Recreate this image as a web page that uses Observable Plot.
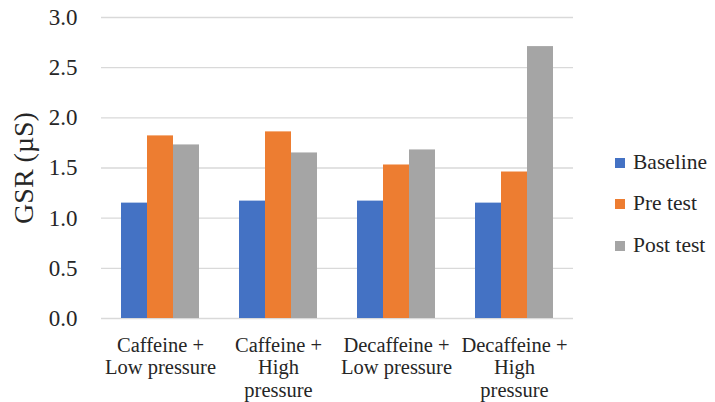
<!DOCTYPE html>
<html>
<head>
<meta charset="utf-8">
<script src="https://cdn.jsdelivr.net/npm/d3@7"></script>
<script src="https://cdn.jsdelivr.net/npm/@observablehq/plot@0.6"></script>
<style>
  html, body { margin: 0; padding: 0; background: #fff; }
  #wrap { position: relative; width: 715px; height: 402px; font-family: "Liberation Serif", serif; color: #262626; }
  #legend { position: absolute; left: 615px; top: 0; }
  .item { position: absolute; left: 0; white-space: nowrap; font-size: 21.5px; line-height: 1; display: flex; align-items: center; }
  .sw { width: 10px; height: 10px; margin-right: 8px; }
</style>
</head>
<body>
<div id="wrap"><div id="chart"></div><div id="legend"></div></div>
<script>
const categories = ["Caffeine + Low pressure", "Caffeine + High pressure", "Decaffeine + Low pressure", "Decaffeine + High pressure"];
const categoryLabels = ["Caffeine +\nLow pressure", "Caffeine +\nHigh\npressure", "Decaffeine +\nLow pressure", "Decaffeine +\nHigh\npressure"];
const series = ["Baseline", "Pre test", "Post test"];
const baseline = [1.15, 1.17, 1.17, 1.15];
const preTest = [1.82, 1.86, 1.53, 1.46];
const postTest = [1.73, 1.65, 1.68, 2.71];
const colors = ["#4472C4", "#ED7D31", "#A5A5A5"];
const yTicks = [0, 0.5, 1, 1.5, 2, 2.5, 3];
const yLabel = "GSR (µS)";

const valuesBySeries = [baseline, preTest, postTest];
const data = [];
categories.forEach((c, i) => series.forEach((s, j) => data.push({category: c, series: s, value: valuesBySeries[j][i]})));
const labelOf = new Map(categories.map((c, i) => [c, categoryLabels[i]]));

const chart = Plot.plot({
  width: 600,
  height: 402,
  marginLeft: 100,
  marginRight: 25,
  marginTop: 17,
  marginBottom: 84,
  style: {fontFamily: "Liberation Serif, serif", color: "#262626", background: "transparent", overflow: "visible"},
  fx: {domain: categories, paddingInner: 0.335, paddingOuter: 0.1675, label: null},
  x: {domain: series, axis: null, padding: 0},
  y: {domain: [0, 3], label: null},
  color: {domain: series, range: colors},
  marks: [
    Plot.ruleY(yTicks, {y: d => d, stroke: "#d9d9d9", strokeWidth: 1.3, insetLeft: -20, insetRight: -20}),
    Plot.barY(data, {fx: "category", x: "series", y: "value", fill: "series"}),
    Plot.axisY({ticks: yTicks, tickFormat: d => d.toFixed(1), tickSize: 0, tickPadding: 44, fontSize: 23, label: null}),
    Plot.axisY({ticks: [], tickSize: 0, fontSize: 28, label: yLabel, labelAnchor: "center", labelOffset: 108, labelArrow: false}),
    Plot.axisFx({anchor: "bottom", tickSize: 0, tickPadding: 17, fontSize: 20.5, lineHeight: 1.1, tickFormat: d => labelOf.get(d), label: null})
  ]
});
document.getElementById("chart").appendChild(chart);

const legend = document.getElementById("legend");
const centers = [163, 204, 246];
series.forEach((s, i) => {
  const item = document.createElement("div");
  item.className = "item";
  item.style.top = (centers[i] - 11) + "px";
  item.style.height = "22px";
  const sw = document.createElement("div");
  sw.className = "sw";
  sw.style.background = colors[i];
  const t = document.createElement("span");
  t.textContent = s;
  item.appendChild(sw);
  item.appendChild(t);
  legend.appendChild(item);
});
</script>
</body>
</html>
